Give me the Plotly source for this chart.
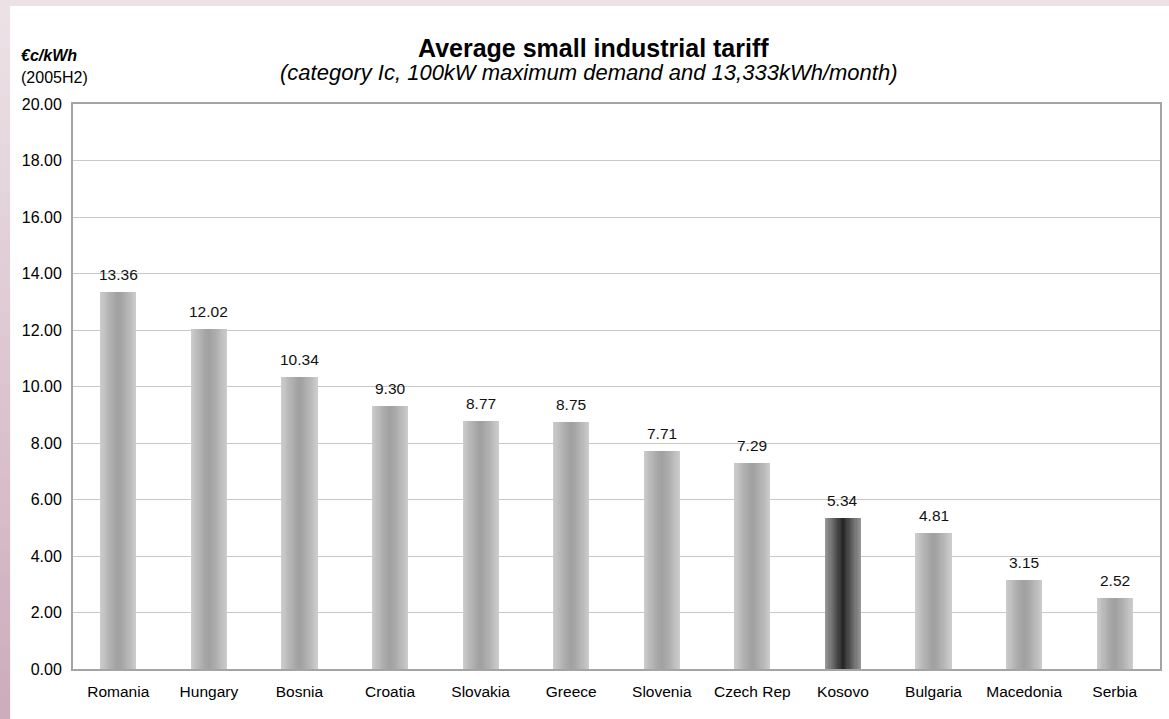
import plotly.graph_objects as go

# ---- data ----
countries = ["Romania", "Hungary", "Bosnia", "Croatia", "Slovakia", "Greece",
             "Slovenia", "Czech Rep", "Kosovo", "Bulgaria", "Macedonia", "Serbia"]
tariffs = [13.36, 12.02, 10.34, 9.30, 8.77, 8.75, 7.71, 7.29, 5.34, 4.81, 3.15, 2.52]
highlight = "Kosovo"
y_ticks = [0, 2, 4, 6, 8, 10, 12, 14, 16, 18, 20]

# ---- layout geometry (pixels) ----
W, H = 1169, 719
L, R, T, B = 73, 1162, 104, 669
PW, PH = R - L, B - T


def px_x(px):
    return (px - L) / PW


def px_y(py):
    return (B - py) / PH


FONT = "Liberation Sans, Arial, sans-serif"


def mix(c_edge, c_center, f, p):
    # f = 1 at the edge, 0 at the centre
    k = f ** p
    return "rgb(%d,%d,%d)" % tuple(int(round(cc + (ce - cc) * k))
                                   for ce, cc in zip(c_edge, c_center))


# gradient layers for the cylinder-like bars
full_w = 0.40
n_layers = 16
fracs = [1.0 - i / n_layers for i in range(n_layers)]
grey_edge, grey_center = (204, 204, 204), (160, 160, 160)
dark_edge, dark_center = (150, 150, 150), (28, 28, 28)

fig = go.Figure()
for i, f in enumerate(fracs):
    gc = mix(grey_edge, grey_center, f, 1.3)
    dc = mix(dark_edge, dark_center, f, 0.9)
    fig.add_trace(go.Bar(
        x=countries, y=tariffs,
        width=full_w * f,
        marker=dict(color=[dc if c == highlight else gc for c in countries],
                    line=dict(width=0)),
        hoverinfo="skip" if i > 0 else None,
        showlegend=False,
    ))

annotations = []
for c, v in zip(countries, tariffs):
    annotations.append(dict(
        x=c, y=v, xref="x", yref="y", text=f"{v:.2f}", showarrow=False,
        yanchor="bottom", yshift=7,
        font=dict(family=FONT, size=15.5, color="#111111"),
    ))

# titles
annotations += [
    dict(x=px_x(594), y=px_y(48), xref="paper", yref="paper",
         text="<b>Average small industrial tariff</b>", showarrow=False,
         xanchor="center", yanchor="middle",
         font=dict(family=FONT, size=25, color="#000000")),
    dict(x=px_x(590), y=px_y(72), xref="paper", yref="paper",
         text="<i>(category Ic, 100kW maximum demand and 13,333kWh/month)</i>",
         showarrow=False, xanchor="center", yanchor="middle",
         font=dict(family=FONT, size=22, color="#000000")),
    dict(x=px_x(19), y=px_y(55), xref="paper", yref="paper",
         text="<b><i>€c/kWh</i></b>", showarrow=False,
         xanchor="left", yanchor="middle",
         font=dict(family=FONT, size=16, color="#000000")),
    dict(x=px_x(19), y=px_y(77), xref="paper", yref="paper",
         text="(2005H2)", showarrow=False,
         xanchor="left", yanchor="middle",
         font=dict(family=FONT, size=16, color="#000000")),
]

# background: pink gradient + white panel
shapes = []
n = 30
top_rgb = (236, 226, 230)
bot_rgb = (205, 172, 189)
for i in range(n):
    t = i / (n - 1)
    rgb = tuple(int(round(a + (b - a) * t)) for a, b in zip(top_rgb, bot_rgb))
    y0 = i * H / n
    y1 = (i + 1) * H / n + 1
    shapes.append(dict(type="rect", xref="paper", yref="paper",
                       x0=px_x(-2), x1=px_x(W + 2), y0=px_y(y1), y1=px_y(y0),
                       fillcolor="rgb(%d,%d,%d)" % rgb, line=dict(width=0),
                       layer="below"))
shapes.append(dict(type="rect", xref="paper", yref="paper",
                   x0=px_x(10), x1=px_x(W + 5), y0=px_y(H + 5), y1=px_y(6),
                   fillcolor="#ffffff", line=dict(width=0), layer="below"))

fig.update_layout(
    width=W, height=H, autosize=False,
    margin=dict(l=L, r=W - R, t=T, b=H - B, pad=0),
    paper_bgcolor="#dccbd3", plot_bgcolor="#ffffff",
    barmode="overlay", bargap=0,
    font=dict(family=FONT, size=16, color="#000000"),
    annotations=annotations, shapes=shapes,
    showlegend=False,
)
fig.update_xaxes(
    type="category", showgrid=False, ticks="",
    showline=True, linecolor="#a4a4a4", linewidth=2, mirror=True,
    tickfont=dict(family=FONT, size=15.5, color="#000000"),
    ticklabelstandoff=7,
)
fig.update_yaxes(
    range=[0, 20], tickvals=y_ticks, tickformat=".2f",
    showgrid=True, gridcolor="#c8c8c8", gridwidth=1,
    zeroline=False, ticks="",
    showline=True, linecolor="#a4a4a4", linewidth=2, mirror=True,
    tickfont=dict(family=FONT, size=16, color="#000000"),
    ticklabelstandoff=6,
)

fig.write_html(
    "out.html",
    config={"displayModeBar": False},
    post_script="document.body.style.margin='0';document.body.style.overflow='hidden';",
)
